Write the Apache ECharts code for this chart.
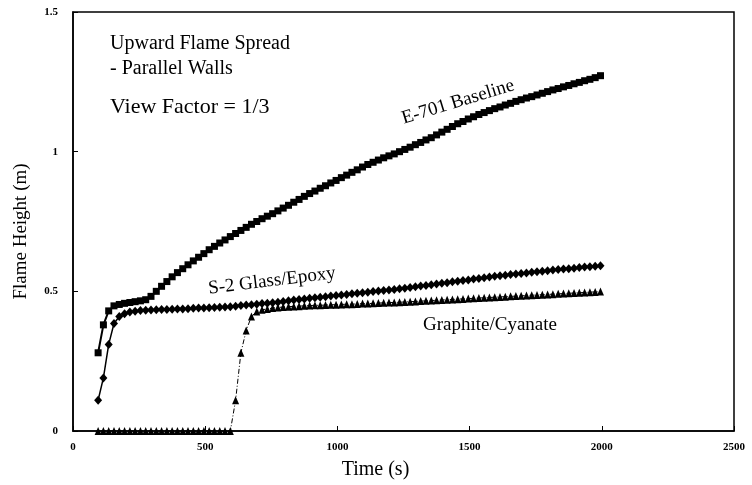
<!DOCTYPE html>
<html>
<head>
<meta charset="utf-8">
<script src="https://cdn.jsdelivr.net/npm/echarts@6/dist/echarts.min.js"></script>
<style>
html,body{margin:0;padding:0;background:#fff;}
#chart{width:752px;height:485px;}
</style>
</head>
<body>
<div id="chart"></div>
<script>
// Time (s) of each sample
const times = [95,115,135,155,175,195,215,235,255,275,295,315,335,355,375,395,415,435,455,475,
495,515,535,555,575,595,615,635,655,675,695,715,735,755,775,795,815,835,855,875,
895,915,935,955,975,995,1015,1035,1055,1075,1095,1115,1135,1155,1175,1195,1215,1235,1255,1275,
1295,1315,1335,1355,1375,1395,1415,1435,1455,1475,1495,1515,1535,1555,1575,1595,1615,1635,1655,1675,
1695,1715,1735,1755,1775,1795,1815,1835,1855,1875,1895,1915,1935,1955,1975,1995];

// Flame height (m)
const e701 = [0.28,0.38,0.43,0.448,0.453,0.457,0.460,0.463,0.466,0.470,0.482,0.500,0.518,0.535,0.552,0.567,0.581,0.595,0.609,0.622,
0.635,0.649,0.661,0.673,0.684,0.696,0.707,0.718,0.729,0.740,0.750,0.760,0.769,0.778,0.788,0.798,0.808,0.819,0.829,0.840,
0.850,0.859,0.869,0.878,0.888,0.897,0.907,0.916,0.926,0.935,0.945,0.954,0.962,0.970,0.978,0.985,0.992,1.000,1.008,1.016,
1.025,1.033,1.042,1.050,1.060,1.070,1.080,1.090,1.100,1.108,1.117,1.125,1.133,1.140,1.147,1.154,1.160,1.167,1.173,1.180,
1.186,1.192,1.197,1.203,1.209,1.215,1.221,1.226,1.232,1.237,1.243,1.248,1.254,1.259,1.265,1.272];

const s2glass = [0.11,0.19,0.31,0.385,0.410,0.420,0.426,0.429,0.431,0.432,0.433,0.434,0.435,0.435,0.436,0.437,0.437,0.438,0.439,0.440,
0.440,0.441,0.442,0.443,0.444,0.445,0.447,0.449,0.451,0.452,0.454,0.456,0.457,0.459,0.461,0.464,0.466,0.469,0.471,0.473,
0.475,0.477,0.479,0.481,0.483,0.485,0.487,0.489,0.491,0.493,0.495,0.497,0.499,0.501,0.503,0.505,0.507,0.509,0.511,0.514,
0.516,0.519,0.521,0.524,0.526,0.529,0.531,0.534,0.536,0.539,0.541,0.544,0.546,0.549,0.551,0.554,0.556,0.558,0.560,0.562,
0.564,0.566,0.568,0.570,0.572,0.574,0.576,0.578,0.580,0.581,0.583,0.585,0.587,0.588,0.590,0.592];

const graphite = [0,0,0,0,0,0,0,0,0,0,0,0,0,0,0,0,0,0,0,0,
0,0,0,0,0,0,0.11,0.28,0.36,0.410,0.428,0.434,0.437,0.440,0.442,0.444,0.445,0.446,0.447,0.448,
0.449,0.450,0.450,0.451,0.452,0.452,0.453,0.454,0.454,0.455,0.456,0.456,0.457,0.458,0.459,0.460,0.460,0.461,0.462,0.463,
0.464,0.465,0.466,0.467,0.468,0.469,0.470,0.471,0.472,0.473,0.474,0.475,0.476,0.477,0.478,0.479,0.480,0.481,0.482,0.483,
0.484,0.485,0.486,0.487,0.488,0.489,0.490,0.491,0.492,0.493,0.494,0.495,0.496,0.497,0.498,0.499];

const xTicks = [0,500,1000,1500,2000,2500];
const yTicks = [0,0.5,1,1.5];

const pairs = arr => times.map((t,i) => [t, arr[i]]);
const serif = '"Liberation Serif", "DejaVu Serif", serif';

const chart = echarts.init(document.getElementById('chart'), null, {renderer:'canvas'});
chart.setOption({
  animation:false,
  backgroundColor:'#fff',
  grid:{left:73,right:18,top:12,bottom:52,show:true,borderColor:'#000',borderWidth:1.5},
  xAxis:{
    type:'value',min:xTicks[0],max:xTicks[xTicks.length-1],interval:500,
    name:'Time (s)',nameLocation:'middle',nameGap:29,
    nameTextStyle:{fontFamily:serif,fontSize:20,color:'#000',padding:[0,56,0,0]},
    axisLine:{lineStyle:{color:'#000',width:1.5}},
    axisTick:{inside:true,length:5,lineStyle:{color:'#000'}},
    axisLabel:{fontFamily:serif,fontSize:11,fontWeight:'bold',color:'#000',margin:11,formatter:v=>String(v)},
    splitLine:{show:false}
  },
  yAxis:{
    type:'value',min:yTicks[0],max:yTicks[yTicks.length-1],interval:0.5,
    name:'Flame Height (m)',nameLocation:'middle',nameGap:42,
    nameTextStyle:{fontFamily:serif,fontSize:19,color:'#000',padding:[0,20,0,0]},
    axisLine:{lineStyle:{color:'#000',width:1.5}},
    axisTick:{inside:true,length:5,lineStyle:{color:'#000'}},
    axisLabel:{fontFamily:serif,fontSize:11,fontWeight:'bold',color:'#000',margin:15,formatter:v=>String(v)},
    splitLine:{show:false}
  },
  series:[
    {name:'E-701 Baseline',type:'line',data:pairs(e701),symbol:'rect',symbolSize:7,
     itemStyle:{color:'#000'},lineStyle:{color:'#000',width:2}},
    {name:'S-2 Glass/Epoxy',type:'line',data:pairs(s2glass),symbol:'diamond',symbolSize:[8,9],
     itemStyle:{color:'#000'},lineStyle:{color:'#000',width:1.5}},
    {name:'Graphite/Cyanate',type:'line',data:pairs(graphite),symbol:'triangle',symbolSize:[7,8],
     itemStyle:{color:'#000'},lineStyle:{color:'#000',width:1,type:[5,2,1,2]}}
  ],
  graphic:[
    {type:'text',left:110,top:34,style:{text:'Upward Flame Spread',font:'20px '+serif,fill:'#000'}},
    {type:'text',left:110,top:59,style:{text:'- Parallel Walls',font:'20px '+serif,fill:'#000'}},
    {type:'text',left:110,top:96,style:{text:'View Factor = 1/3',font:'22px '+serif,fill:'#000'}},
    {type:'text',x:458,y:102,rotation:17*Math.PI/180,style:{text:'E-701 Baseline',font:'19px '+serif,fill:'#000',align:'center',verticalAlign:'middle'}},
    {type:'text',x:272,y:281,rotation:7*Math.PI/180,style:{text:'S-2 Glass/Epoxy',font:'19px '+serif,fill:'#000',align:'center',verticalAlign:'middle'}},
    {type:'text',x:490,y:325,style:{text:'Graphite/Cyanate',font:'19px '+serif,fill:'#000',align:'center',verticalAlign:'middle'}}
  ]
});
</script>
</body>
</html>
